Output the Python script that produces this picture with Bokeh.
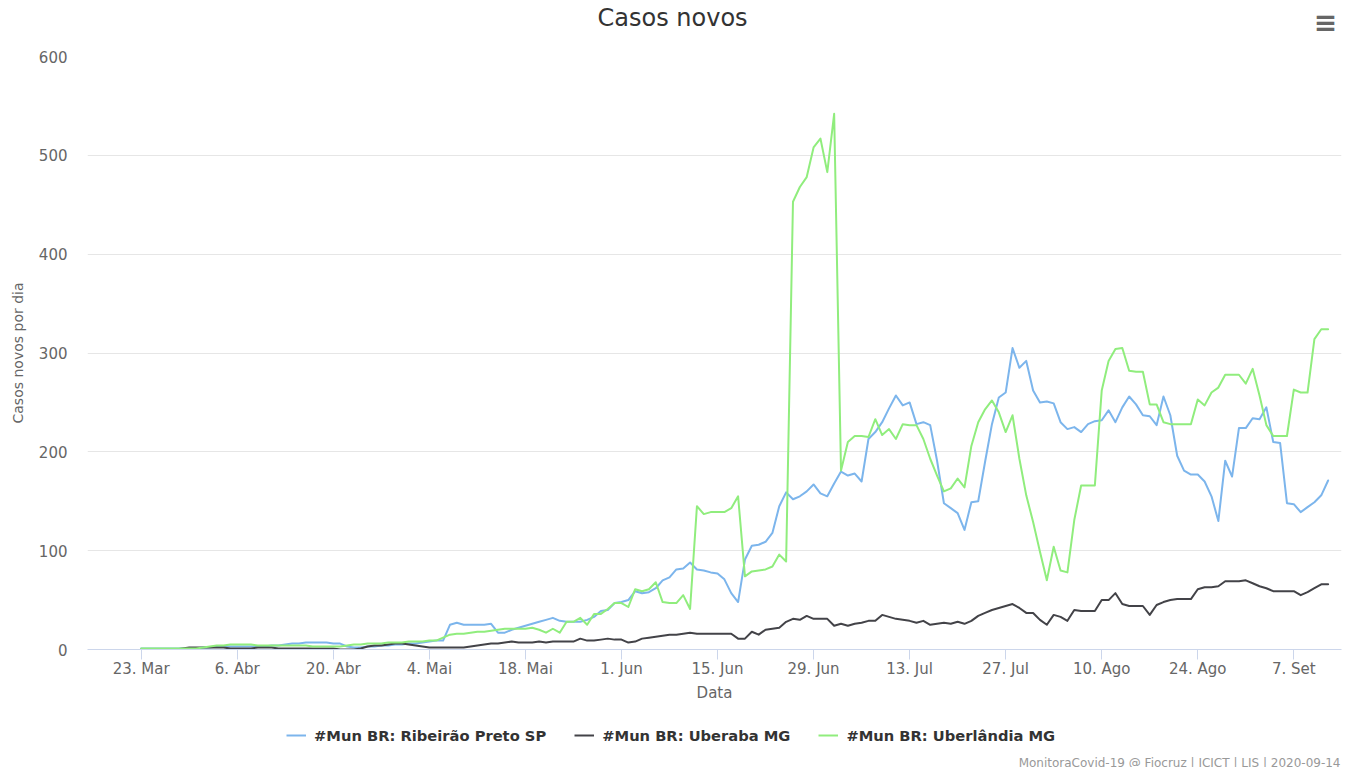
import pandas as pd
from bokeh.plotting import figure
from bokeh.layouts import column
from bokeh.models import (Range1d, FixedTicker, SingleIntervalTicker, Legend, LegendItem,
                          Label, ColumnDataSource)
from bokeh.embed import file_html
from bokeh.resources import INLINE

# ---------------- data ----------------
start_date = "2020-03-23"
dates = pd.date_range(start_date, periods=174, freq="D")

ribeirao = [1, 1, 1, 1, 1, 1, 1, 1, 1,
            2, 2, 3, 3, 3, 3, 3, 3, 3, 3, 4, 4,
            5, 6, 6, 7, 7, 7, 7, 6, 6,
            3, 2, 2, 3, 3, 4,
            4, 5, 5, 6, 6, 7, 8, 9,
            9, 25, 27, 25, 25, 25, 25, 26, 17, 17,
            20, 22, 24, 26, 28, 30, 32, 29, 28, 28,
            28, 30, 33, 39, 40, 47, 48, 50, 59, 57,
            58, 62, 70, 73, 81, 82, 88, 81, 80, 78,
            77, 71, 57, 48, 91, 105, 106, 109, 118, 145,
            159, 152, 155, 160, 167, 158, 155, 168, 180, 176,
            178, 170, 213, 220, 230, 244, 257, 247, 250, 228,
            230, 227, 191, 148, 143, 138, 121, 149, 150, 190,
            228, 255, 260, 305, 285, 292, 262, 250, 251, 249,
            230, 223, 225, 220, 228, 231, 232, 242, 230, 245,
            256, 248, 237, 236, 227, 256, 237, 196, 181, 177,
            177, 170, 155, 130, 191, 175, 224, 224, 234, 233,
            245, 210, 209, 148, 147, 139, 144, 149, 156, 171]

uberaba = [0, 0, 0, 0, 0, 0,
           1, 2, 2, 2, 2, 2, 2,
           1, 1, 1, 1, 2, 2, 2, 1, 1, 1, 1, 1, 1, 1, 1, 1, 0, 0,
           0, 1, 3, 4, 4, 5, 6, 6, 5, 4,
           3, 2, 2, 2, 2, 2, 2, 3, 4, 5,
           6, 6, 7, 8, 7, 7, 7, 8, 7, 8,
           8, 8, 8, 11, 9, 9, 10, 11, 10, 10,
           7, 8, 11, 12, 13, 14, 15, 15, 16, 17,
           16, 16, 16, 16, 16, 16, 11, 11, 18, 15,
           20, 21, 22, 28, 31, 30, 34, 31, 31, 31,
           24, 26, 24, 26, 27, 29, 29, 35, 33, 31,
           30, 29, 27, 29, 25, 26, 27, 26, 28, 26,
           29, 34, 37, 40, 42, 44, 46, 42, 37, 37,
           30, 25, 35, 33, 29, 40, 39, 39, 39, 50,
           50, 57, 46, 44, 44, 44, 35, 45, 48, 50,
           51, 51, 51, 61, 63, 63, 64, 69, 69, 69,
           70, 67, 64, 62, 59, 59, 59, 59, 55, 58,
           62, 66, 66]

uberlandia = [1, 1, 1, 1, 1, 1, 1, 1, 1,
              2, 3, 4, 4, 5, 5, 5, 5, 4, 4, 4, 4,
              4, 4, 4, 4, 3, 3, 3, 3, 3,
              4, 5, 5, 6, 6, 6,
              7, 7, 7, 8, 8, 8, 9, 9,
              12, 15, 16, 16, 17, 18, 18, 19, 20, 21,
              21, 21, 21, 22, 20, 17, 21, 17, 28, 28,
              32, 25, 36, 36, 41, 47, 47, 43, 61, 59,
              61, 68, 48, 47, 47, 55, 41, 145, 137, 139,
              139, 139, 143, 155, 74, 79, 80, 81, 84, 96,
              89, 453, 468, 478, 508, 517, 483, 542, 181, 210,
              216, 216, 215, 233, 217, 223, 213, 228, 227, 227,
              213, 193, 176, 160, 163, 173, 164, 206, 230, 243,
              252, 240, 220, 237, 193, 156, 129, 99, 70, 104,
              80, 78, 131, 166, 166, 166, 262, 292, 304, 305,
              282, 281, 281, 248, 248, 230, 228, 228, 228, 228,
              253, 247, 260, 265, 278, 278, 278, 269, 284, 257,
              227, 216, 216, 216, 263, 260, 260, 314, 324, 324]

series_keys = ["ribeirao", "uberaba", "uberlandia"]
series_names = ["#Mun BR: Ribeirão Preto SP", "#Mun BR: Uberaba MG", "#Mun BR: Uberlândia MG"]
series_colors = ["#7cb5ec", "#434348", "#90ed7d"]

tick_dates = ["2020-03-23", "2020-04-06", "2020-04-20", "2020-05-04", "2020-05-18",
              "2020-06-01", "2020-06-15", "2020-06-29", "2020-07-13", "2020-07-27",
              "2020-08-10", "2020-08-24", "2020-09-07"]
tick_labels = ["23. Mar", "6. Abr", "20. Abr", "4. Mai", "18. Mai", "1. Jun", "15. Jun",
               "29. Jun", "13. Jul", "27. Jul", "10. Ago", "24. Ago", "7. Set"]

title_text = "Casos novos"
x_title = "Data"
y_title = "Casos novos por dia"
credits_text = "MonitoraCovid-19 @ Fiocruz | ICICT | LIS | 2020-09-14"

# ---------------- chart ----------------
FONT = "DejaVu Sans"
DAY_MS = 86400000
LEFT = 87
FRAME_W = 1254
W = LEFT + FRAME_W + 1
t0 = int(pd.Timestamp(start_date).value // 10**6)

src = ColumnDataSource(dict(date=dates, ribeirao=ribeirao, uberaba=uberaba, uberlandia=uberlandia))

p = figure(width=W, height=704, x_axis_type="datetime",
           output_backend="svg", toolbar_location=None,
           x_range=Range1d(t0 - 7.83 * DAY_MS, t0 + 174.95 * DAY_MS),
           y_range=Range1d(0, 600),
           min_border_left=LEFT, min_border_right=1, min_border_top=56, min_border_bottom=52)
p.outline_line_color = None
p.background_fill_color = "white"
p.border_fill_color = "white"

# title
p.title.text = title_text
p.title.text_font = FONT
p.title.text_font_size = "24px"
p.title.text_font_style = "normal"
p.title.text_color = "#333333"
p.title.align = "left"
p.title.offset = 510
p.title.standoff = -16

# lines
renderers = []
for col, color in zip(series_keys, series_colors):
    r = p.line("date", col, source=src, line_color=color, line_width=2,
               line_join="round", line_cap="round")
    renderers.append(r)

# x axis
tick_ms = [int(pd.Timestamp(d).value // 10**6) for d in tick_dates]
xa = p.xaxis[0]
xa.ticker = FixedTicker(ticks=tick_ms)
xa.major_label_overrides = {t: lab for t, lab in zip(tick_ms, tick_labels)}
xa.axis_line_color = "#ccd6eb"
xa.major_tick_line_color = "#ccd6eb"
xa.major_tick_out = 10
xa.major_tick_in = 0
xa.minor_tick_line_color = None
xa.major_label_text_font = FONT
xa.major_label_text_font_size = "15px"
xa.major_label_text_color = "#666666"
xa.major_label_standoff = 0
xa.axis_label = x_title
xa.axis_label_text_font = FONT
xa.axis_label_text_font_size = "15px"
xa.axis_label_text_font_style = "normal"
xa.axis_label_text_color = "#666666"
xa.axis_label_standoff = 3

# y axis
ya = p.yaxis[0]
ya.ticker = SingleIntervalTicker(interval=100)
ya.axis_line_color = None
ya.major_tick_line_color = None
ya.minor_tick_line_color = None
ya.major_tick_out = 0
ya.major_tick_in = 0
ya.major_label_text_font = FONT
ya.major_label_text_font_size = "15px"
ya.major_label_text_color = "#666666"
ya.major_label_standoff = 16
ya.axis_label = y_title
ya.axis_label_text_font = FONT
ya.axis_label_text_font_size = "14px"
ya.axis_label_text_font_style = "normal"
ya.axis_label_text_color = "#666666"
ya.axis_label_standoff = 10

p.xgrid.grid_line_color = None
p.ygrid.grid_line_color = "#e6e6e6"
p.ygrid.grid_line_width = 1

# context menu icon (panel above the plot area)
p.add_layout(Label(x=1238, y=34, x_units="screen", y_units="screen", text="≡",
                   text_align="center", text_baseline="middle", text_font=FONT,
                   text_font_size="28px", text_font_style="bold", text_color="#666666"), "above")

# ---------------- legend + credits strip ----------------
H2 = 64
q = figure(width=W, height=H2, output_backend="svg", toolbar_location=None,
           x_range=Range1d(0, FRAME_W), y_range=Range1d(0, H2),
           x_axis_location=None, y_axis_location=None,
           min_border_left=LEFT, min_border_right=1, min_border_top=0, min_border_bottom=0)
q.outline_line_color = None
q.xgrid.visible = False
q.ygrid.visible = False
q.background_fill_color = "white"
q.border_fill_color = "white"

# legend keys: the same series, drawn outside this strip's visible range
keys = []
for col, color in zip(series_keys, series_colors):
    keys.append(q.line("date", col, source=src, line_color=color, line_width=2))

legend = Legend(items=[LegendItem(label=n, renderers=[r]) for n, r in zip(series_names, keys)],
                orientation="horizontal", location=(199, 23),
                label_text_font=FONT, label_text_font_size="14.7px", label_text_font_style="bold",
                label_text_color="#333333", glyph_width=20, glyph_height=20, label_height=20,
                label_standoff=8, spacing=28, padding=0, margin=0,
                border_line_color=None, background_fill_alpha=0)
q.add_layout(legend, "center")

q.add_layout(Label(x=1253, y=6, text=credits_text, text_align="right",
                   text_baseline="alphabetic", text_font=FONT,
                   text_font_size="12px", text_color="#999999"))

layout = column(p, q, spacing=0)
open("out.html", "w").write(file_html(layout, INLINE))
